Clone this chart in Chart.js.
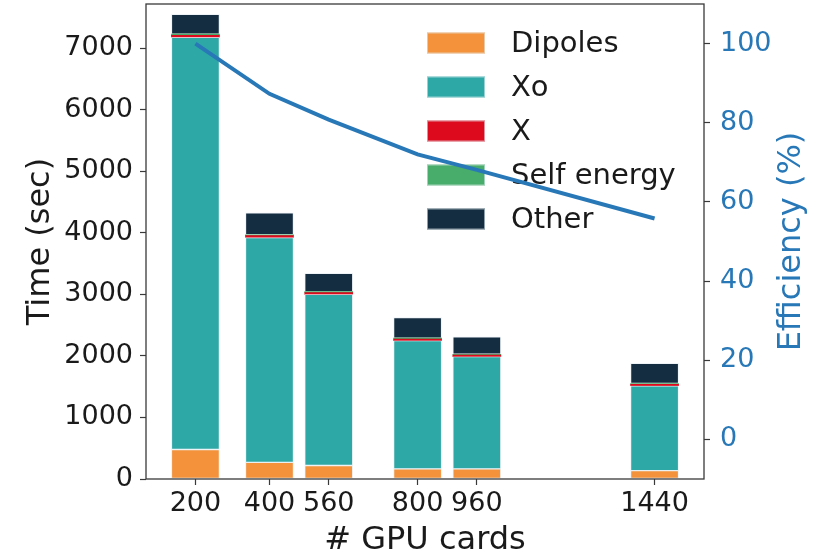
<!DOCTYPE html>
<html><head><meta charset="utf-8">
<script src="https://cdn.jsdelivr.net/npm/chart.js@4/dist/chart.umd.min.js"></script>
<style>html,body{margin:0;padding:0;background:#fff}#wrap{width:821px;height:554px;position:relative}</style>
</head><body><div id="wrap"><canvas id="c"></canvas></div>
<script>
// ---- data ----
const gpuCards   = [200, 400, 560, 800, 960, 1440];
const dipoles    = [480, 270, 220, 165, 165, 135];
const xo         = [6700, 3655, 2780, 2085, 1825, 1380];
const xTerm      = [30, 30, 30, 25, 25, 25];
const selfEnergy = [20, 15, 15, 15, 12, 12];
const other      = [322, 356, 296, 334, 283, 329];
const efficiency = [100, 87.3, 80.8, 72.0, 68.1, 55.8];
const xTickValues    = [200, 400, 560, 800, 960, 1440];
const timeTickValues = [0, 1000, 2000, 3000, 4000, 5000, 6000, 7000];
const effTickValues  = [0, 20, 40, 60, 80, 100];
const seriesNames = ['Dipoles', 'Xo', 'X', 'Self energy', 'Other'];
const seriesColors = ['#f3923a', '#2ea8a6', '#dc0a1c', '#48ad6a', '#142d41'];
const seriesEdge = [1, 1, 0, 0, 1];
const seriesValues = [dipoles, xo, xTerm, selfEnergy, other];

const FONT = "'DejaVu Sans', 'Liberation Sans', sans-serif";
const TEXT = '#1a1a1a';
const BLUE = '#2878b8';
const EDGE = 'rgba(225,235,240,0.6)';

const toPts = (ys) => gpuCards.map((x, i) => ({x: x, y: ys[i]}));

const barSets = seriesNames.map((name, k) => ({
  type: 'bar',
  label: name,
  data: toPts(seriesValues[k]),
  backgroundColor: seriesColors[k],
  borderColor: EDGE,
  borderWidth: seriesEdge[k],
  borderSkipped: false,
  barThickness: 48,
  stack: 's',
  yAxisID: 'y',
  order: 1
}));

const lineSet = {
  type: 'line',
  label: 'Efficiency',
  data: toPts(efficiency),
  borderColor: BLUE,
  borderWidth: 4,
  pointRadius: 0,
  tension: 0,
  fill: false,
  yAxisID: 'y1',
  order: 0
};

const framePlugin = {
  id: 'frame',
  afterDraw(chart) {
    const a = chart.chartArea, ctx = chart.ctx;
    ctx.save();
    ctx.strokeStyle = '#3a3a3a';
    ctx.lineWidth = 1.3;
    ctx.strokeRect(a.left, a.top, a.right - a.left, a.bottom - a.top);
    // right axis title, reading bottom-to-top
    ctx.fillStyle = BLUE;
    ctx.font = "32px " + FONT;
    ctx.textAlign = 'center';
    ctx.textBaseline = 'middle';
    ctx.translate(a.right + 88, (a.top + a.bottom) / 2);
    ctx.rotate(-Math.PI / 2);
    ctx.fillText('Efficiency (%)', 0, 0);
    ctx.restore();
  }
};

const legendPlugin = {
  id: 'innerLegend',
  beforeDatasetsDraw(chart) {
    const a = chart.chartArea, ctx = chart.ctx;
    const bx = a.right - 277, bw = 58, bh = 21, y0 = a.top + 39, dy = 44;
    ctx.save();
    ctx.font = "29px " + FONT;
    ctx.textBaseline = 'middle';
    ctx.textAlign = 'left';
    seriesNames.forEach((name, k) => {
      const cy = y0 + k * dy;
      ctx.fillStyle = seriesColors[k];
      ctx.fillRect(bx, cy - bh / 2, bw, bh);
      ctx.strokeStyle = EDGE;
      ctx.lineWidth = 1;
      ctx.strokeRect(bx + 0.5, cy - bh / 2 + 0.5, bw - 1, bh - 1);
      ctx.fillStyle = TEXT;
      ctx.fillText(name, bx + 84, cy + 1);
    });
    ctx.restore();
  }
};

function noPad(s) { s.paddingTop = 0; s.paddingBottom = 0; s.paddingLeft = 0; s.paddingRight = 0; }

new Chart(document.getElementById('c'), {
  type: 'bar',
  data: { datasets: [lineSet, ...barSets] },
  options: {
    responsive: true,
    maintainAspectRatio: false,
    animation: false,
    layout: { padding: { top: 4, left: 0, right: 0, bottom: 0 } },
    plugins: { legend: { display: false }, tooltip: { enabled: false }, title: { display: false } },
    scales: {
      x: {
        type: 'linear',
        min: 66.5, max: 1573.5,
        offset: false,
        grid: { display: true, drawOnChartArea: false, offset: false, tickLength: 6, color: '#3a3a3a', tickWidth: 1.2 },
        border: { display: false },
        afterBuildTicks(s) { s.ticks = xTickValues.map(v => ({value: v})); },
        afterFit(s) { s.height = 75; noPad(s); },
        ticks: { color: TEXT, font: { family: FONT, size: 27 }, padding: 3, maxRotation: 0, autoSkip: false,
                 callback: (v) => String(v) },
        title: { display: true, text: '# GPU cards', color: TEXT, font: { family: FONT, size: 32, lineHeight: 0.81 },
                 padding: { top: 0, bottom: 0 } }
      },
      y: {
        type: 'linear', position: 'left', stacked: true,
        min: 0, max: 7720,
        grid: { display: true, drawOnChartArea: false, tickLength: 6, color: '#3a3a3a', tickWidth: 1.2 },
        border: { display: false },
        afterBuildTicks(s) { s.ticks = timeTickValues.map(v => ({value: v})); },
        afterFit(s) { s.width = 146; noPad(s); },
        ticks: { color: TEXT, font: { family: FONT, size: 27 }, padding: 7, callback: (v) => String(v) },
        title: { display: true, text: 'Time (sec)', color: TEXT, font: { family: FONT, size: 32, lineHeight: 1 },
                 padding: { top: 25, bottom: 0 } }
      },
      y1: {
        type: 'linear', position: 'right',
        min: -10, max: 110,
        grid: { display: true, drawOnChartArea: false, tickLength: 6, color: '#3a3a3a', tickWidth: 1.2 },
        border: { display: false },
        afterBuildTicks(s) { s.ticks = effTickValues.map(v => ({value: v})); },
        afterFit(s) { s.width = 117; noPad(s); },
        ticks: { color: BLUE, font: { family: FONT, size: 27 }, padding: 10, callback: (v) => String(v) }
      }
    }
  },
  plugins: [legendPlugin, framePlugin]
});
</script>
</body></html>
